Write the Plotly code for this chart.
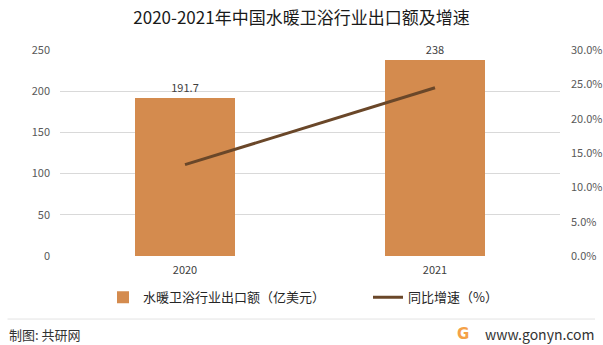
import plotly.graph_objects as go

years = ["2020", "2021"]
export_value = [191.7, 238]
growth_rate = [13.3, 24.5]
bar_labels = ["191.7", "238"]
left_ticks = [0, 50, 100, 150, 200, 250]
right_ticks = [0, 5, 10, 15, 20, 25, 30]
right_tick_text = ["0.0%", "5.0%", "10.0%", "15.0%", "20.0%", "25.0%", "30.0%"]

FONT = "Noto Sans CJK SC, Noto Sans, sans-serif"
BAR_COLOR = "#D48B4E"
LINE_COLOR = "#6A4729"
TICK_COLOR = "#595959"

fig = go.Figure()
fig.add_trace(go.Bar(
    x=years, y=export_value, name="水暖卫浴行业出口额（亿美元）", legend="legend",
    marker=dict(color=BAR_COLOR, line=dict(width=0)),
    text=bar_labels, textposition="outside", cliponaxis=False,
    textfont=dict(size=11, color="#404040", family=FONT),
))
fig.add_trace(go.Scatter(
    x=years, y=growth_rate, name="同比增速（%）", yaxis="y2", legend="legend2",
    mode="lines", line=dict(color=LINE_COLOR, width=3),
))

legend_common = dict(orientation="h", y=-0.2, yanchor="middle", xanchor="left",
                     font=dict(size=13, color="#262626", family=FONT),
                     itemwidth=30, bgcolor="rgba(0,0,0,0)")

fig.update_layout(
    width=603, height=345,
    margin=dict(l=60, r=43, t=50, b=89, autoexpand=False),
    paper_bgcolor="white", plot_bgcolor="white",
    font=dict(family=FONT, color=TICK_COLOR, size=11),
    title=dict(text="2020-2021年中国水暖卫浴行业出口额及增速", x=0.5, xanchor="center",
               y=0.948, yanchor="middle",
               font=dict(size=17, color="#1a1a1a", family=FONT)),
    bargap=0.6,
    showlegend=True,
    legend=dict(x=0.086, **legend_common),
    legend2=dict(x=0.616, **legend_common),
    xaxis=dict(showgrid=False, showline=False, ticks="", ticklabelstandoff=6,
               automargin=False, tickfont=dict(size=11, color="#404040")),
    yaxis=dict(range=[0, 250], tickvals=left_ticks, showgrid=True, gridcolor="#D9D9D9",
               gridwidth=1, zeroline=False, showline=False, ticks="", ticklabelstandoff=9,
               automargin=False, tickfont=dict(size=11, color=TICK_COLOR)),
    yaxis2=dict(range=[0, 30], tickvals=right_ticks, ticktext=right_tick_text, overlaying="y",
                side="right", showgrid=False, zeroline=False, showline=False,
                ticklabelstandoff=10, automargin=False,
                tickfont=dict(size=11, color=TICK_COLOR)),
    shapes=[dict(type="line", xref="paper", yref="paper", x0=-0.105, x1=1.07,
                 y0=-0.306, y1=-0.306, line=dict(color="#E3E3E3", width=1))],
    annotations=[
        dict(text="制图: 共研网", xref="paper", yref="paper", x=-0.106, y=-0.379,
             xanchor="left", yanchor="middle", showarrow=False,
             font=dict(size=13, color="#333333", family=FONT)),
        dict(text="www.gonyn.com", xref="paper", yref="paper", x=1.072, y=-0.379,
             xanchor="right", yanchor="middle", showarrow=False,
             font=dict(size=14, color="#333333", family=FONT)),
        dict(text="<b>G</b>", xref="paper", yref="paper", x=0.805, y=-0.379,
             xanchor="center", yanchor="middle", showarrow=False,
             font=dict(size=15, color="#F4A148", family="DejaVu Sans")),
    ],
)

fig.write_html("out.html")
